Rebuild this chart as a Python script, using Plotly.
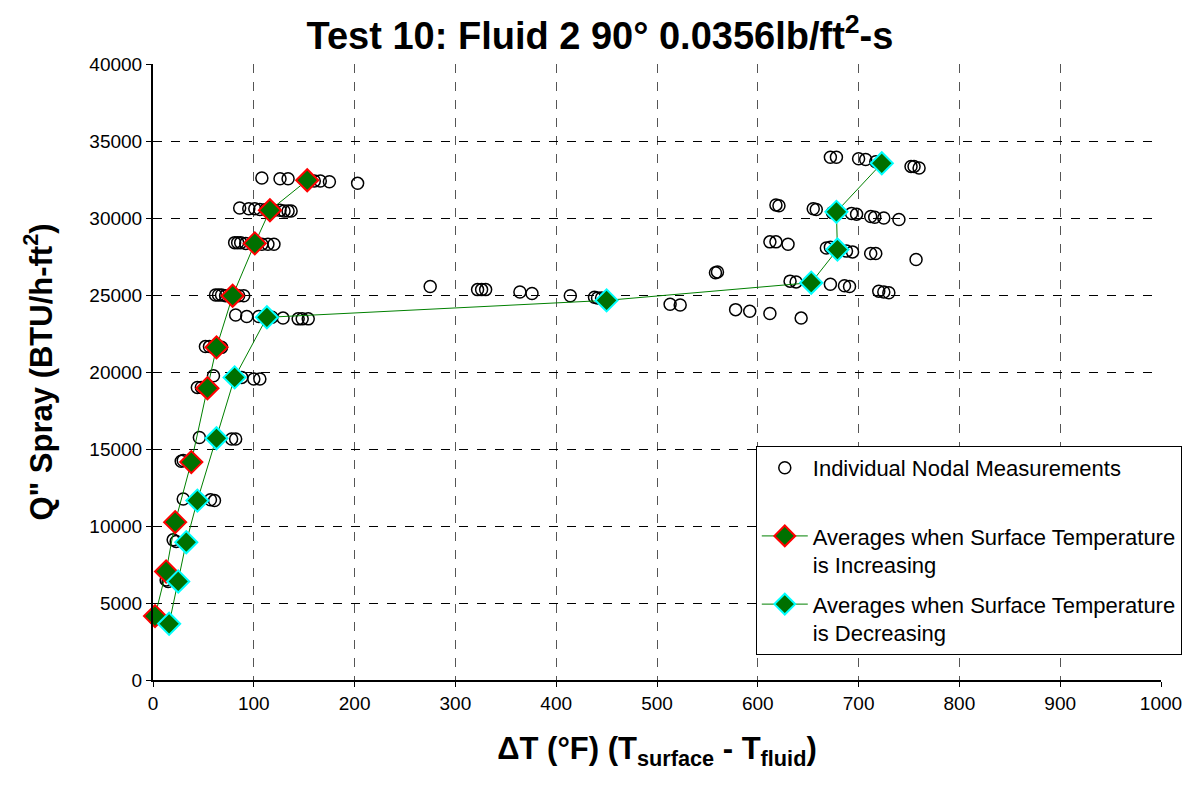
import plotly.graph_objects as go

# Individual nodal measurements (dT, Q")
nodal_x = [2, 4, 13, 15, 20, 23, 28, 30,
           30, 57, 61, 46, 78, 82,
           44, 48, 60, 88, 100, 106,
           52, 56, 60, 64, 68,
           62, 65, 68, 72, 80, 85, 90,
           82, 93, 105, 110, 118, 129, 144, 148, 154,
           81, 84, 87, 92, 108, 114, 120,
           86, 95, 101, 106, 112, 120, 126, 130, 134, 137,
           108, 126, 134, 160, 166, 175, 203,
           275, 322, 326, 330, 364, 376, 414, 438, 441, 445,
           513, 523, 558, 560, 578, 592, 612, 643,
           612, 618, 630, 618, 621, 632, 638, 655, 658,
           668, 672, 672, 686, 691, 672, 678, 674,
           688, 694, 693, 698, 700, 707, 712, 717, 712, 716,
           717, 725, 720, 725, 730, 725, 740, 752, 755, 760, 757]
nodal_y = [4000, 4200, 6500, 6400, 9100, 9000, 14200, 14250,
           11750, 11700, 11650, 15750, 15650, 15650,
           19000, 19000, 19750, 19650, 19550, 19550,
           21650, 21650, 21600, 21600, 21600,
           25000, 25000, 25000, 24950, 24950, 24950, 24950,
           23700, 23600, 23600, 23550, 23550, 23500, 23450, 23450, 23450,
           28400, 28400, 28400, 28350, 28300, 28300, 28300,
           30650, 30600, 30600, 30550, 30550, 30500, 30500, 30450, 30450, 30450,
           32600, 32550, 32550, 32400, 32400, 32350, 32250,
           25550, 25350, 25350, 25350, 25200, 25100, 24950, 24850, 24800, 24800,
           24400, 24350, 26450, 26500, 24050, 23950, 23800, 23500,
           28450, 28450, 28300, 30850, 30800, 25900, 25850, 30600, 30550,
           28050, 28100, 25700, 25600, 25550, 33950, 33950, 30350,
           27850, 27800, 30300, 30250, 33850, 33800, 27700, 27700, 30100, 30050,
           33650, 33550, 25250, 25200, 25150, 30000, 29900, 33350, 33350, 33250, 27300]

# Averages, surface temperature increasing
inc_x = [2, 13, 22, 38, 54, 63, 79, 101, 116, 153]
inc_y = [4150, 7050, 10250, 14150, 18950, 21600, 24950, 28350, 30500, 32450]

# Averages, surface temperature decreasing
dec_x = [723, 678, 679, 653, 450, 113, 81, 63, 44, 33, 25, 16]
dec_y = [33550, 30400, 27950, 25800, 24650, 23550, 19650, 15700, 11650, 8950, 6400, 3650]

x_ticks = list(range(0, 1001, 100))
y_ticks = list(range(0, 40001, 5000))

FONT = "Arial, Liberation Sans, sans-serif"

fig = go.Figure()
fig.add_trace(go.Scatter(
    x=nodal_x, y=nodal_y, mode="markers",
    name="Individual Nodal Measurements<br> ",
    legendgroup="a",
    marker=dict(symbol="circle-open", size=12, color="black", line=dict(width=1.5, color="black")),
    cliponaxis=False,
))
fig.add_trace(go.Scatter(
    x=inc_x, y=inc_y, mode="lines+markers",
    name="Averages when Surface Temperature<br>is Increasing",
    legendgroup="b",
    line=dict(color="#008000", width=1),
    marker=dict(symbol="diamond", size=17, color="#007000", line=dict(width=2, color="#ff0000")),
    cliponaxis=False,
))
fig.add_trace(go.Scatter(
    x=dec_x, y=dec_y, mode="lines+markers",
    name="Averages when Surface Temperature<br>is Decreasing",
    legendgroup="c",
    line=dict(color="#008000", width=1),
    marker=dict(symbol="diamond", size=17, color="#007000", line=dict(width=2, color="#00ffff")),
    cliponaxis=False,
))

fig.update_layout(
    width=1200, height=789,
    margin=dict(l=153, r=39, t=64, b=109),
    paper_bgcolor="white", plot_bgcolor="white",
    font=dict(family=FONT, color="black", size=19),
    title=dict(text="<b>Test 10: Fluid 2 90° 0.0356lb/ft<sup>2</sup>-s</b>",
               x=0.5, xanchor="center", y=0.955, yanchor="middle",
               font=dict(size=38, family=FONT, color="black")),
    legend=dict(x=0.598, y=0.38, xanchor="left", yanchor="top",
                bgcolor="white", bordercolor="black", borderwidth=1,
                font=dict(size=22, family=FONT, color="black"),
                traceorder="grouped", tracegroupgap=8, valign="top",
                itemsizing="trace", itemwidth=46),
    showlegend=True,
)
fig.update_xaxes(
    range=[0, 1000], tickvals=x_ticks, ticktext=[str(v) for v in x_ticks],
    showgrid=True, gridcolor="#555555", griddash="dash", gridwidth=1,
    showline=True, linecolor="black", linewidth=2,
    ticks="outside", ticklen=5, tickcolor="black",
    zeroline=False,
    tickfont=dict(size=19, family=FONT, color="black"),
    title=dict(text="<b>ΔT (°F) (T<sub>surface</sub> - T<sub>fluid</sub>)</b>",
               font=dict(size=31, family=FONT, color="black"), standoff=25),
)
fig.update_yaxes(
    range=[0, 40000], tickvals=y_ticks, ticktext=[str(v) for v in y_ticks],
    showgrid=True, gridcolor="black", griddash="dash", gridwidth=1,
    showline=True, linecolor="black", linewidth=2,
    ticks="outside", ticklen=5, tickcolor="black",
    zeroline=False,
    tickfont=dict(size=19, family=FONT, color="black"),
    title=dict(text="<b>Q\" Spray (BTU/h-ft<sup>2</sup>)</b>",
               font=dict(size=31, family=FONT, color="black"), standoff=28),
)

fig.write_html("out.html")
